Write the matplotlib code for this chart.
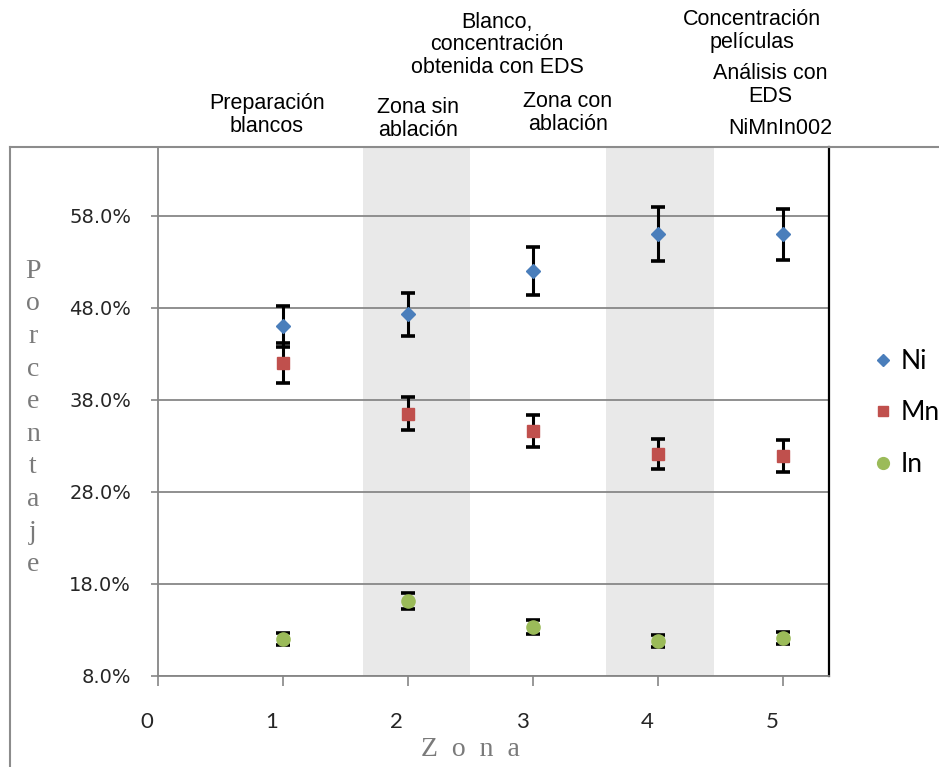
import matplotlib
matplotlib.use("Agg")
import matplotlib.pyplot as plt
from matplotlib.lines import Line2D
from matplotlib.ticker import FuncFormatter
from matplotlib.transforms import ScaledTranslation

# zonas y concentraciones (%) con su error
zona = [1, 2, 3, 4, 5]
ni = [46.0, 47.3, 52.0, 56.05, 56.0]
ni_err = [2.25, 2.35, 2.6, 2.9, 2.8]
mn = [42.0, 36.5, 34.65, 32.1, 31.9]
mn_err = [2.2, 1.8, 1.75, 1.6, 1.7]
inn = [11.95, 16.1, 13.3, 11.75, 12.1]
inn_err = [0.65, 0.85, 0.75, 0.65, 0.6]
y_ticks = [8, 18, 28, 38, 48, 58]
x_ticks = [0, 1, 2, 3, 4, 5]
# franjas sombreadas (zonas medidas con EDS)
bandas = [(1.64, 2.497), (3.584, 4.449)]

W, H = 939, 767
fig = plt.figure(figsize=(W / 100, H / 100), dpi=100)
ax = fig.add_axes([157.5 / W, 1 - 675.7 / H, (829 - 157.5) / W, (675.7 - 147) / H])

for a, b in bandas:
    ax.axvspan(a, b, color='#e9e9e9', zorder=0.1, lw=0)

ax.set_axisbelow(True)
ax.yaxis.grid(True, color='#878787', lw=1.3)

kw = dict(ls='none', ecolor='black', elinewidth=2.2, capsize=4.8, capthick=2.6, zorder=3)
ax.errorbar(zona, ni, yerr=ni_err, marker='D', ms=7, color='#4a7ebb', mec='#4a7ebb', **kw)
ax.errorbar(zona, mn, yerr=mn_err, marker='s', ms=8.3, color='#c0504d', mec='#c0504d', **kw)
ax.errorbar(zona, inn, yerr=inn_err, marker='o', ms=9.5, color='#9bbb59', mec='#9bbb59', **kw)

ax.set_xlim(0, 5.365)
ax.set_ylim(8, 65.5)
ax.set_yticks(y_ticks)
ax.set_xticks(x_ticks)
ax.yaxis.set_major_formatter(FuncFormatter(lambda v, p: '%.1f%%' % v))

for s in ['left', 'bottom', 'top']:
    ax.spines[s].set_color('#868686')
    ax.spines[s].set_linewidth(1.3)
ax.spines['right'].set_color('black')
ax.spines['right'].set_linewidth(1.6)

ax.tick_params(axis='y', direction='out', length=5, width=1.2, color='#868686',
               pad=14, labelsize=14, labelcolor='#262626')
ax.tick_params(axis='x', direction='out', length=7, width=1.2, color='#868686',
               pad=19, labelsize=16, labelcolor='#262626')
for lab in ax.get_yticklabels():
    lab.set_family('DejaVu Sans')
for lab in ax.get_xticklabels():
    lab.set_family(['Lato', 'DejaVu Sans'])
    lab.set_transform(lab.get_transform() + ScaledTranslation(-0.11, 0, fig.dpi_scale_trans))

# marco del area del grafico
fig.add_artist(Line2D([9.5 / W, 9.5 / W], [0, 1 - 147 / H], color='#8c8c8c', lw=1.5))
fig.add_artist(Line2D([9.5 / W, 1], [1 - 147 / H, 1 - 147 / H], color='#8c8c8c', lw=1.5))

# titulos de ejes
fig.text(33 / W, 1 - 418 / H, '\n'.join('Porcentaje'), ha='center', va='center',
         family='Liberation Serif', size=20, color='#7a7a7a', linespacing=1.4)
fig.text(470 / W, 1 - 750 / H, 'Z  o  n  a', ha='center', va='center',
         family='Liberation Serif', size=20, color='#7a7a7a')

# anotaciones sobre el grafico
notas = [
    (267, 115, 'Preparación\nblancos'),
    (418, 119, 'Zona sin\nablación'),
    (568, 113, 'Zona con\nablación'),
    (497, 45, 'Blanco,\nconcentración\nobtenida con EDS'),
    (752, 31, 'Concentración\npelículas'),
    (770, 85, 'Análisis con\nEDS'),
    (780, 128, 'NiMnIn002'),
]
for x, y, t in notas:
    fig.text(x / W, 1 - y / H, t, ha='center', va='center', family='Liberation Sans',
             size=15.5, color='black', linespacing=1.1)

handles = [
    Line2D([], [], ls='none', marker='D', ms=6.5, color='#4a7ebb'),
    Line2D([], [], ls='none', marker='s', ms=7.5, color='#c0504d'),
    Line2D([], [], ls='none', marker='o', ms=8.5, color='#9bbb59'),
]
fig.legend(handles, ['Ni', 'Mn', 'In'], loc='center left', bbox_to_anchor=(872 / W, 1 - 413 / H),
           frameon=False, handlelength=0.8, handletextpad=0.3, labelspacing=1.0,
           prop={'family': ['Lato', 'DejaVu Sans'], 'size': 19}, borderaxespad=0, borderpad=0)

fig.savefig('out.png', dpi=100)
